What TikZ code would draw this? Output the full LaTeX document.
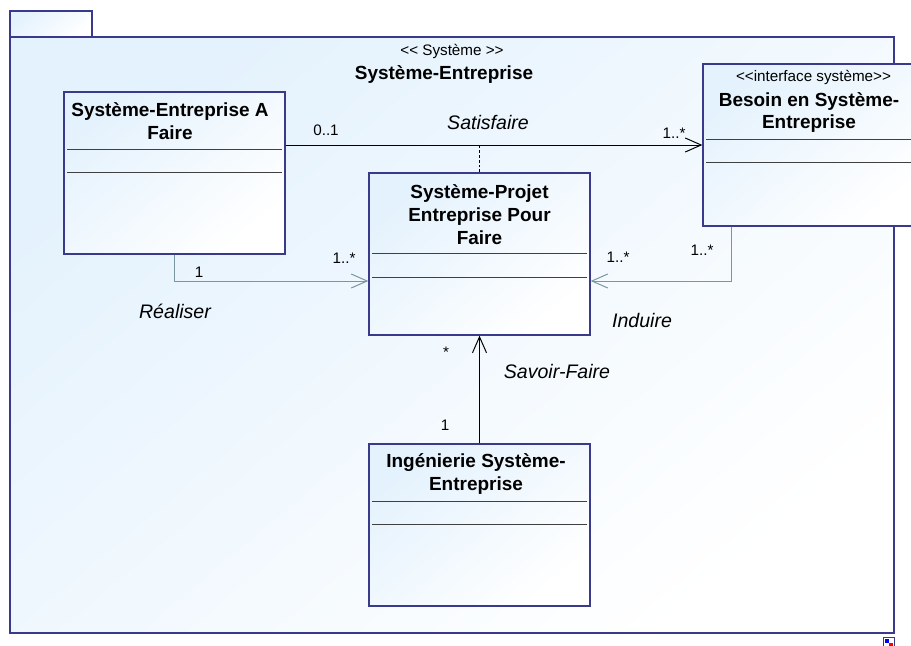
\documentclass[tikz,border=0pt]{standalone}
\usepackage{fontspec}
\setmainfont{Liberation Sans}
\usepackage{tikz}
\usetikzlibrary{arrows,arrows.meta}

\definecolor{umlfill}{RGB}{228,242,253}
\definecolor{umlline}{RGB}{58,58,140}
\definecolor{lnkgray}{RGB}{122,150,160}

\begin{document}
\begin{tikzpicture}[x=0.03cm, y=-0.03cm, >={Straight Barb[length=13.6pt,width=12pt]}]
	\tikzstyle{pkgfill} = [draw=umlline, line width=1.1pt, top color=umlfill, bottom color=white, shading angle=40]
	\tikzstyle{classbox} = [pkgfill, rectangle, minimum width=6.63cm, minimum height=4.86cm, inner sep=0pt]
	\tikzstyle{classname} = [font=\fontsize{16.2}{19.6}\selectfont\bfseries, align=center, inner sep=0pt]
	\tikzstyle{small} = [font=\fontsize{13}{15}\selectfont, inner sep=0pt]
	\tikzstyle{role} = [font=\fontsize{16.7}{20}\selectfont\itshape, inner sep=0pt]
	\tikzstyle{sep} = [draw=black!75, line width=0.8pt]
	\tikzstyle{assoc} = [->, line width=0.85pt]
	\tikzstyle{real} = [->, lnkgray, line width=0.85pt]
	\useasboundingbox (0,0) rectangle (911,646);
	\path[pkgfill] (10,11) rectangle (92,37);
	\path[pkgfill] (10,37) rectangle (894,633);
	\path
	node[small] (stp) at (452,51) {<{}< Système >{}>}
	node[classname] (tp) at (444,75) {Système-Entreprise}
	node[classbox] (A) at (174.5,173) {}
	node[classbox] (P) at (479.5,254) {}
	node[classbox] (B) at (813.5,145) {}
	node[classbox] (I) at (479.5,525) {}
	node[classname] (nA) at (170,121.5) {Système-Entreprise A\\Faire}
	node[classname] (nP) at (479.5,214.5) {Système-Projet\\Entreprise Pour\\Faire}
	node[small] (sB) at (813.5,77) {<{}<interface système>{}>}
	node[classname] (nB) at (809,112.5) {Besoin en Système-\\Entreprise}
	node[classname] (nI) at (476,474) {Ingénierie Système-\\Entreprise}
	;
	\draw[sep] (67,149) -- (282,149);
	\draw[sep] (67,172) -- (282,172);
	\draw[sep] (372,253) -- (587,253);
	\draw[sep] (372,277) -- (587,277);
	\draw[sep] (706,139) -- (921,139);
	\draw[sep] (706,162) -- (921,162);
	\draw[sep] (372,501) -- (587,501);
	\draw[sep] (372,524) -- (587,524);
	\draw[assoc] (A.east |- B.west) -- (B.west);
	\draw[line width=0.85pt, dash pattern=on 2.5pt off 1.7pt] (P.north) -- (P.north |- B.west);
	\draw[real] (A.south) |- ([yshift=-0.81cm]P.west);
	\draw[real] ([xshift=-2.475cm]B.south) |- ([yshift=-0.81cm]P.east);
	\draw[assoc] (I.north) -- (P.south);
	\path
	node[small] (m1) at (326,130) {0..1}
	node[role] (r1) at (488,123) {Satisfaire}
	node[small] (m2) at (674,133) {1..*}
	node[small] (m3) at (199,272) {1}
	node[small] (m4) at (344,258) {1..*}
	node[role] (r2) at (175,311) {Réaliser}
	node[small] (m5) at (702,250) {1..*}
	node[small] (m6) at (618,257) {1..*}
	node[role] (r3) at (642,321) {Induire}
	node[small] (m7) at (446,352) {*}
	node[small] (m8) at (445,425) {1}
	node[role] (r4) at (557,372) {Savoir-Faire}
	;
	\draw[umlline, fill=white, line width=0.6pt] (883,637) rectangle (894,648);
	\fill[blue] (885,639) rectangle (889,643);
	\fill[red] (889,643) rectangle (893,647);
\end{tikzpicture}
\end{document}
